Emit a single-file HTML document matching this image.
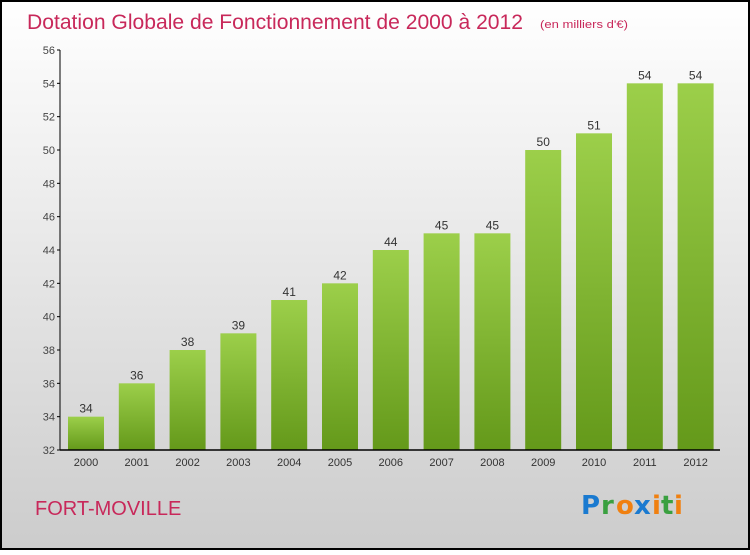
<!DOCTYPE html>
<html><head><meta charset="utf-8"><style>
html,body{margin:0;padding:0;}
body{width:750px;height:550px;overflow:hidden;font-family:"Liberation Sans",sans-serif;}
</style></head><body>
<svg width="750" height="550" xmlns="http://www.w3.org/2000/svg">
<defs>
<linearGradient id="bg" x1="0" y1="0" x2="0" y2="1"><stop offset="0" stop-color="#ffffff"/><stop offset="1" stop-color="#cccccc"/></linearGradient>
<linearGradient id="bar" x1="0" y1="0" x2="0" y2="1"><stop offset="0" stop-color="#9ccf4a"/><stop offset="1" stop-color="#64991a"/></linearGradient>
</defs>
<rect x="1" y="1" width="748" height="548" fill="url(#bg)" stroke="#000" stroke-width="2"/>
<text x="27" y="29" font-size="21" fill="#c8285a" textLength="496" lengthAdjust="spacingAndGlyphs">Dotation Globale de Fonctionnement de 2000 à 2012</text>
<text x="540" y="28" font-size="11" fill="#c8285a" textLength="88" lengthAdjust="spacingAndGlyphs">(en milliers d'€)</text>
<g id="yaxis"></g><g id="bars"></g><g id="xaxis"></g>
<line x1="60" y1="50" x2="60" y2="450" stroke="#000"/>
<line x1="60" y1="450" x2="720" y2="450" stroke="#000" stroke-width="1.5"/>
<text x="35" y="515" font-size="20" fill="#c8285a">FORT-MOVILLE</text>
<g font-size="26" font-family="'DejaVu Sans',sans-serif" font-weight="bold">
<text x="581" y="514" fill="#1a7ad0">P</text><text x="601" y="514" fill="#3aa040">r</text><text x="616" y="514" fill="#f08010">o</text><text x="634" y="514" fill="#1a7ad0">x</text><text x="652" y="514" fill="#f08010">i</text><text x="661" y="514" fill="#3aa040">t</text><text x="674" y="514" fill="#f08010">i</text>
</g>
</svg>
<script>
const years=["2000","2001","2002","2003","2004","2005","2006","2007","2008","2009","2010","2011","2012"];
const values=[34,36,38,39,41,42,44,45,45,50,51,54,54];
const yTicks=[32,34,36,38,40,42,44,46,48,50,52,54,56];
const NS="http://www.w3.org/2000/svg";
const yMin=32,yMax=56,plotTop=50,plotBot=450;
const y=v=>plotBot-(v-yMin)/(yMax-yMin)*(plotBot-plotTop);
const x=i=>86+i*50.8;
const mk=(t,a,p)=>{const e=document.createElementNS(NS,t);for(const k in a)e.setAttribute(k,a[k]);p.appendChild(e);return e;};
const ya=document.getElementById('yaxis'),bg=document.getElementById('bars'),xa=document.getElementById('xaxis');
yTicks.forEach(v=>{
 const l=mk('line',{x1:57,x2:60,y1:y(v),y2:y(v),stroke:'#000'},ya);
 
 
 const t=mk('text',{x:55,y:y(v)+4,'font-size':11,'text-anchor':'end',fill:'#444'},ya);
 t.textContent=v;
 
 
});
values.forEach((v,i)=>{
 const r=mk('rect',{x:x(i)-18,y:y(v),width:36,height:plotBot-y(v),fill:'url(#bar)'},bg);
 
 
 const t=mk('text',{x:x(i),y:y(v)-4,'font-size':12,'text-anchor':'middle',fill:'#333'},bg);
 t.textContent=v;
 
 
 const xl=mk('text',{x:x(i),y:466,'font-size':11,'text-anchor':'middle',fill:'#333'},xa);
 xl.textContent=years[i];
 
 
});
</script>
</body></html>
